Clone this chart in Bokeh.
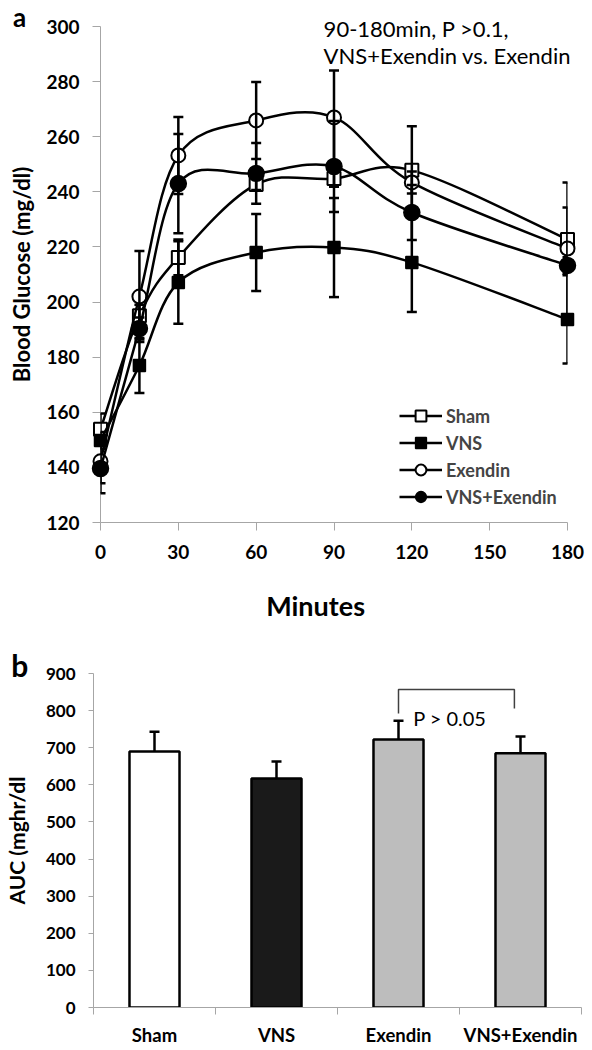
import math
from bokeh.plotting import figure
from bokeh.models import (Range1d, FixedTicker, Whisker, TeeHead, ColumnDataSource,
                          Legend, LegendItem)
from bokeh.core.properties import value
from bokeh.layouts import column, row
from bokeh.embed import file_html
from bokeh.resources import INLINE

# ---------------- data: panel a ----------------
minutes = [0, 15, 30, 60, 90, 120, 180]
series_names = ["Sham", "VNS", "Exendin", "VNS+Exendin"]
sham = [153.8, 195.0, 216.2, 242.7, 244.8, 247.8, 222.7]
vns = [149.8, 177.0, 207.1, 218.0, 219.8, 214.4, 193.7]
exendin = [142.2, 202.0, 253.2, 265.9, 267.0, 243.4, 219.4]
vns_exendin = [139.6, 190.4, 243.0, 246.7, 249.2, 232.5, 213.3]
sham_err = [5.8, 4.0, 6.5, 2.0, 3.0, 16.0, 11.6]
vns_err = [3.0, 10.0, 15.0, 14.0, 18.0, 18.0, 16.0]
exendin_err = [8.0, 16.5, 14.0, 14.0, 17.0, 4.0, 24.0]
vns_exendin_err = [9.0, 4.0, 18.0, 11.0, 16.5, 10.0, 3.0]
x_ticks_a = [0, 30, 60, 90, 120, 150, 180]
y_ticks_a = [120, 140, 160, 180, 200, 220, 240, 260, 280, 300]

# ---------------- data: panel b ----------------
groups = ["Sham", "VNS", "Exendin", "VNS+Exendin"]
auc = [690, 617, 722, 685]
auc_err = [53, 46, 51, 45]
bar_colors = ["white", "#1a1a1a", "#bdbdbd", "#bdbdbd"]
y_ticks_b = [0, 100, 200, 300, 400, 500, 600, 700, 800, 900]

FONT = "Lato"
AXIS_GRAY = "#a6a6a6"


def smooth_segments(xs, ys):
    """Catmull-Rom style cubic Bezier segments (like spreadsheet smoothed lines)."""
    n = len(xs)
    out = dict(x0=[], y0=[], x1=[], y1=[], cx0=[], cy0=[], cx1=[], cy1=[])
    for i in range(n - 1):
        i0 = max(i - 1, 0)
        i3 = min(i + 2, n - 1)
        out["x0"].append(xs[i]); out["y0"].append(ys[i])
        out["x1"].append(xs[i + 1]); out["y1"].append(ys[i + 1])
        out["cx0"].append(xs[i] + (xs[i + 1] - xs[i0]) / 6.0)
        out["cy0"].append(ys[i] + (ys[i + 1] - ys[i0]) / 6.0)
        out["cx1"].append(xs[i + 1] - (xs[i3] - xs[i]) / 6.0)
        out["cy1"].append(ys[i + 1] - (ys[i3] - ys[i]) / 6.0)
    return out


def free_text(p, x, y, txt, size, bold=False, align="left", baseline="middle"):
    # text glyph on the overlay level so that it may sit outside the frame
    p.text(x=[x], y=[y], text=[txt], text_font=value(FONT),
           text_font_style="bold" if bold else "normal", text_font_size=size,
           text_color="black", text_align=align, text_baseline=baseline, level="overlay")


# ================= panel a =================
p1 = figure(width=592, height=630, x_range=Range1d(0, 180), y_range=Range1d(120, 300),
            output_backend="svg", toolbar_location=None,
            min_border_left=100, min_border_right=25, min_border_top=26, min_border_bottom=108)
p1.outline_line_color = None
p1.grid.visible = False

xa = p1.xaxis[0]
xa.ticker = FixedTicker(ticks=x_ticks_a)
ya = p1.yaxis[0]
ya.ticker = FixedTicker(ticks=y_ticks_a)
ya.axis_label = "Blood Glucose (mg/dl)"
ya.axis_label_standoff = 8
ya.axis_label_text_font = FONT
ya.axis_label_text_font_style = "bold"
ya.axis_label_text_font_size = "22px"
ya.axis_label_text_color = "black"
for ax in (xa, ya):
    ax.axis_line_color = AXIS_GRAY
    ax.major_tick_line_color = AXIS_GRAY
    ax.major_tick_out = 8
    ax.major_tick_in = 0
    ax.minor_tick_line_color = None
    ax.major_label_text_font = FONT
    ax.major_label_text_font_style = "bold"
    ax.major_label_text_font_size = "19px"
    ax.major_label_text_color = "black"
xa.major_label_standoff = 14
ya.major_label_standoff = 13

all_vals = [sham, vns, exendin, vns_exendin]
all_errs = [sham_err, vns_err, exendin_err, vns_exendin_err]
marker_styles = [
    dict(marker="square", size=13, fill_color="white", line_width=2),
    dict(marker="square", size=12, fill_color="black", line_width=1.5),
    dict(marker="circle", size=14, fill_color="white", line_width=2),
    dict(marker="circle", size=16, fill_color="black", line_width=1.5),
]

legend_items = []
for name, vals, errs, ms in zip(series_names, all_vals, all_errs, marker_styles):
    seg = smooth_segments(minutes, vals)
    br = p1.bezier(line_color="black", line_width=2.5, source=ColumnDataSource(seg), x0="x0", y0="y0",
                   x1="x1", y1="y1", cx0="cx0", cy0="cy0", cx1="cx1", cy1="cy1", level="overlay")
    sr = p1.scatter(minutes, vals, line_color="black", level="overlay", **ms)
    esrc = ColumnDataSource(dict(x=minutes,
                                 lo=[v - e for v, e in zip(vals, errs)],
                                 hi=[v + e for v, e in zip(vals, errs)]))
    w = Whisker(base="x", lower="lo", upper="hi", source=esrc, dimension="height",
                line_color="black", line_width=2.5, level="overlay",
                upper_head=TeeHead(size=10, line_width=2.5, line_color="black"),
                lower_head=TeeHead(size=10, line_width=2.5, line_color="black"))
    p1.add_layout(w)
    legend_items.append(LegendItem(label=name, renderers=[br, sr]))

legend = Legend(items=legend_items, location=(299, 12), glyph_width=43, glyph_height=27,
                label_height=27, spacing=0, padding=0, margin=0, border_line_color=None,
                background_fill_alpha=0, label_text_font=FONT, label_text_font_style="bold",
                label_text_font_size="18px", label_standoff=4)
p1.add_layout(legend)

free_text(p1, -31.2, 309.2, "a", "26px", bold=True, align="center", baseline="top")
free_text(p1, 86.0, 299.3, "90-180min, P >0.1,", "22px")
free_text(p1, 86.0, 289.5, "VNS+Exendin vs. Exendin", "22px")
free_text(p1, 82.9, 89.9, "Minutes", "27px", bold=True, align="center")

# ================= panel b =================
positions = [i + 0.5 for i in range(len(groups))]
p2 = figure(width=592, height=420, x_range=Range1d(0, len(groups)), y_range=Range1d(0, 900),
            output_backend="svg", toolbar_location=None,
            min_border_left=91, min_border_right=11, min_border_top=43, min_border_bottom=43)
p2.outline_line_color = None
p2.grid.visible = False

xb = p2.xaxis[0]
xb.ticker = FixedTicker(ticks=positions, minor_ticks=list(range(len(groups) + 1)))
xb.major_label_overrides = {pos: g for pos, g in zip(positions, groups)}
xb.major_tick_out = 0
xb.major_tick_in = 0
xb.minor_tick_out = 7
xb.minor_tick_in = 0
xb.minor_tick_line_color = AXIS_GRAY
xb.major_label_standoff = 9
xb.major_label_text_font_size = "18.5px"
xb.major_label_text_line_height = 1.0
yb = p2.yaxis[0]
yb.ticker = FixedTicker(ticks=y_ticks_b)
yb.major_tick_out = 5
yb.major_tick_in = 0
yb.minor_tick_line_color = None
yb.major_label_standoff = 13
yb.major_label_text_font_size = "17px"
yb.axis_label = "AUC (mghr/dl"
yb.axis_label_standoff = 14
yb.axis_label_text_font = FONT
yb.axis_label_text_font_style = "bold"
yb.axis_label_text_font_size = "21px"
yb.axis_label_text_color = "black"
for ax in (xb, yb):
    ax.axis_line_color = AXIS_GRAY
    ax.major_tick_line_color = AXIS_GRAY
    ax.major_label_text_font = FONT
    ax.major_label_text_font_style = "bold"
    ax.major_label_text_color = "black"

bsrc = ColumnDataSource(dict(x=positions, top=auc, color=bar_colors,
                             hi=[a + e for a, e in zip(auc, auc_err)]))
p2.vbar(x="x", top="top", width=0.41, fill_color="color", line_color="black",
        line_width=2.5, source=bsrc)
p2.add_layout(Whisker(base="x", lower="top", upper="hi", source=bsrc, dimension="height",
                      line_color="black", line_width=2.5, level="overlay", lower_head=None,
                      upper_head=TeeHead(size=10, line_width=2.5, line_color="black")))

# significance bracket between Exendin and VNS+Exendin
i_ex, i_ve = groups.index("Exendin"), groups.index("VNS+Exendin")
p2.line([positions[i_ex], positions[i_ex], positions[i_ve] - 0.05, positions[i_ve] - 0.05],
        [792, 857, 857, 806], line_color="#404040", line_width=1.5)
free_text(p2, 2.62, 781, "P > 0.05", "20px")
free_text(p2, -0.604, 921.6, "b", "30px", bold=True, align="center", baseline="alphabetic")

# wrap each figure in its own row so the two frames are not aligned to each other
layout = column(row(p1), row(p2), spacing=0)
open("out.html", "w").write(file_html(layout, INLINE))
